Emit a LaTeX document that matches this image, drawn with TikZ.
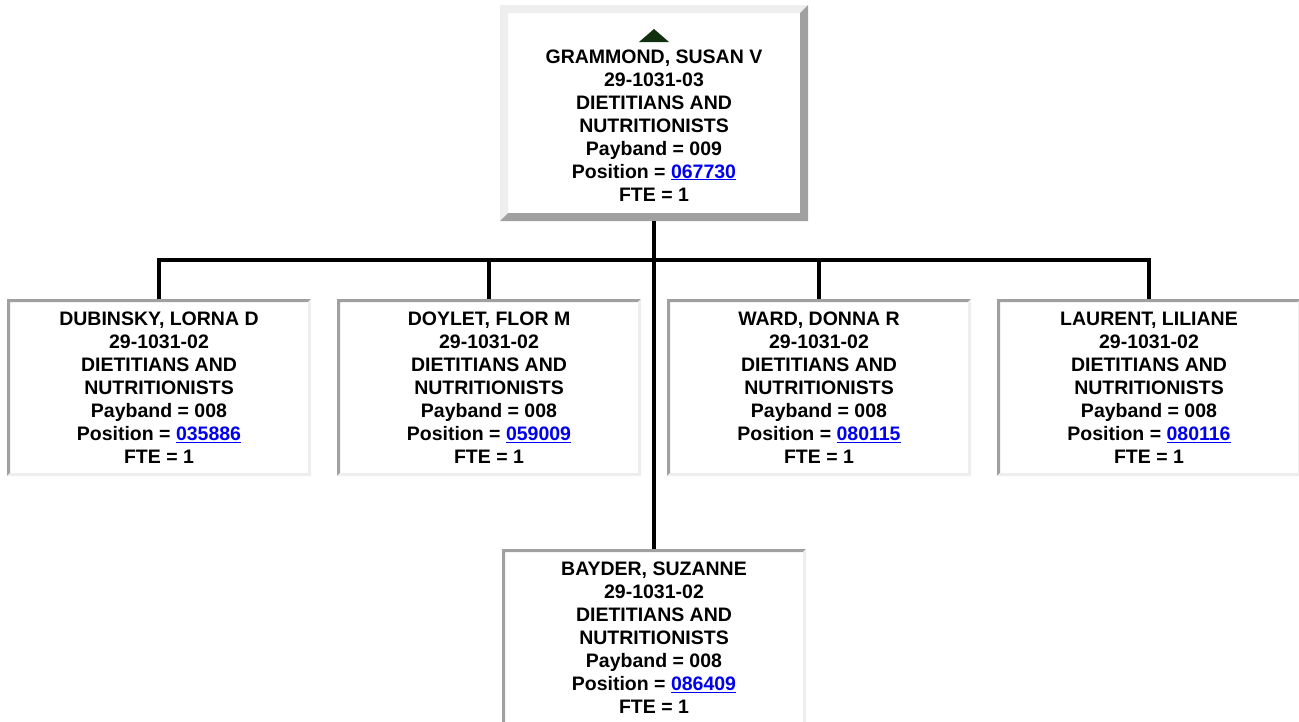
\documentclass[tikz,border=0pt]{standalone}
\usepackage{fontspec}
\setmainfont{Liberation Sans}
\usepackage{xcolor}
\usetikzlibrary{positioning}

\definecolor{bdark}{RGB}{160,160,160}
\definecolor{blight}{RGB}{238,238,238}
\definecolor{linkblue}{RGB}{0,0,238}
\definecolor{arrowgreen}{RGB}{16,48,16}

\newcommand{\poslink}[1]{\textcolor{linkblue}{\underline{#1}}}

\begin{document}
\begin{tikzpicture}[
    x=1pt, y=1pt,
    % bevelled border: width, top/left colour, bottom/right colour
    bevel/.style n args={3}{path picture={
        \fill[#2] (path picture bounding box.south west) |- (path picture bounding box.north east)
            -- ++(-#1,-#1) -| ([shift={(#1,#1)}]path picture bounding box.south west) -- cycle;
        \fill[#3] (path picture bounding box.south west) -| (path picture bounding box.north east)
            -- ++(-#1,-#1) |- ([shift={(#1,#1)}]path picture bounding box.south west) -- cycle;
    }},
    card/.style={rectangle, fill=white, inner sep=0pt, outer sep=0pt, align=center,
        font=\fontsize{19.5}{23}\selectfont\bfseries},
    staff/.style={card, minimum width=304pt, minimum height=177pt, bevel={3pt}{bdark}{blight}},
    boss/.style={card, minimum width=308pt, minimum height=216pt, bevel={8pt}{blight}{bdark}},
    wire/.style={draw=black, line width=3.6pt}
]

\useasboundingbox (0,0) rectangle (1299,-721);

\node[boss] (grammond) at (654,-113) {\rule{0pt}{38pt}GRAMMOND, SUSAN V\\29-1031-03\\DIETITIANS AND\\NUTRITIONISTS\\Payband = 009\\Position = \poslink{067730}\\FTE = 1};
\fill[arrowgreen] ([yshift=-24pt]grammond.north) -- ++(-15,-13) -- ++(30,0) -- cycle;

\node[staff] (dubinsky) at (159,-387.5) {DUBINSKY, LORNA D\\29-1031-02\\DIETITIANS AND\\NUTRITIONISTS\\Payband = 008\\Position = \poslink{035886}\\FTE = 1};
\node[staff, right=26pt of dubinsky] (doylet) {DOYLET, FLOR M\\29-1031-02\\DIETITIANS AND\\NUTRITIONISTS\\Payband = 008\\Position = \poslink{059009}\\FTE = 1};
\node[staff, right=26pt of doylet] (ward) {WARD, DONNA R\\29-1031-02\\DIETITIANS AND\\NUTRITIONISTS\\Payband = 008\\Position = \poslink{080115}\\FTE = 1};
\node[staff, right=26pt of ward] (laurent) {LAURENT, LILIANE\\29-1031-02\\DIETITIANS AND\\NUTRITIONISTS\\Payband = 008\\Position = \poslink{080116}\\FTE = 1};

\node[staff, below=328pt of grammond] (bayder) {BAYDER, SUZANNE\\29-1031-02\\DIETITIANS AND\\NUTRITIONISTS\\Payband = 008\\Position = \poslink{086409}\\FTE = 1};

\coordinate (bus) at ([yshift=-39pt]grammond.south);

\draw[wire] (grammond) -- (bayder);
\draw[wire] (dubinsky.north) |- (bus) -| (laurent.north);
\draw[wire] (doylet.north) -- (doylet.north |- bus);
\draw[wire] (ward.north) -- (ward.north |- bus);

\end{tikzpicture}
\end{document}
